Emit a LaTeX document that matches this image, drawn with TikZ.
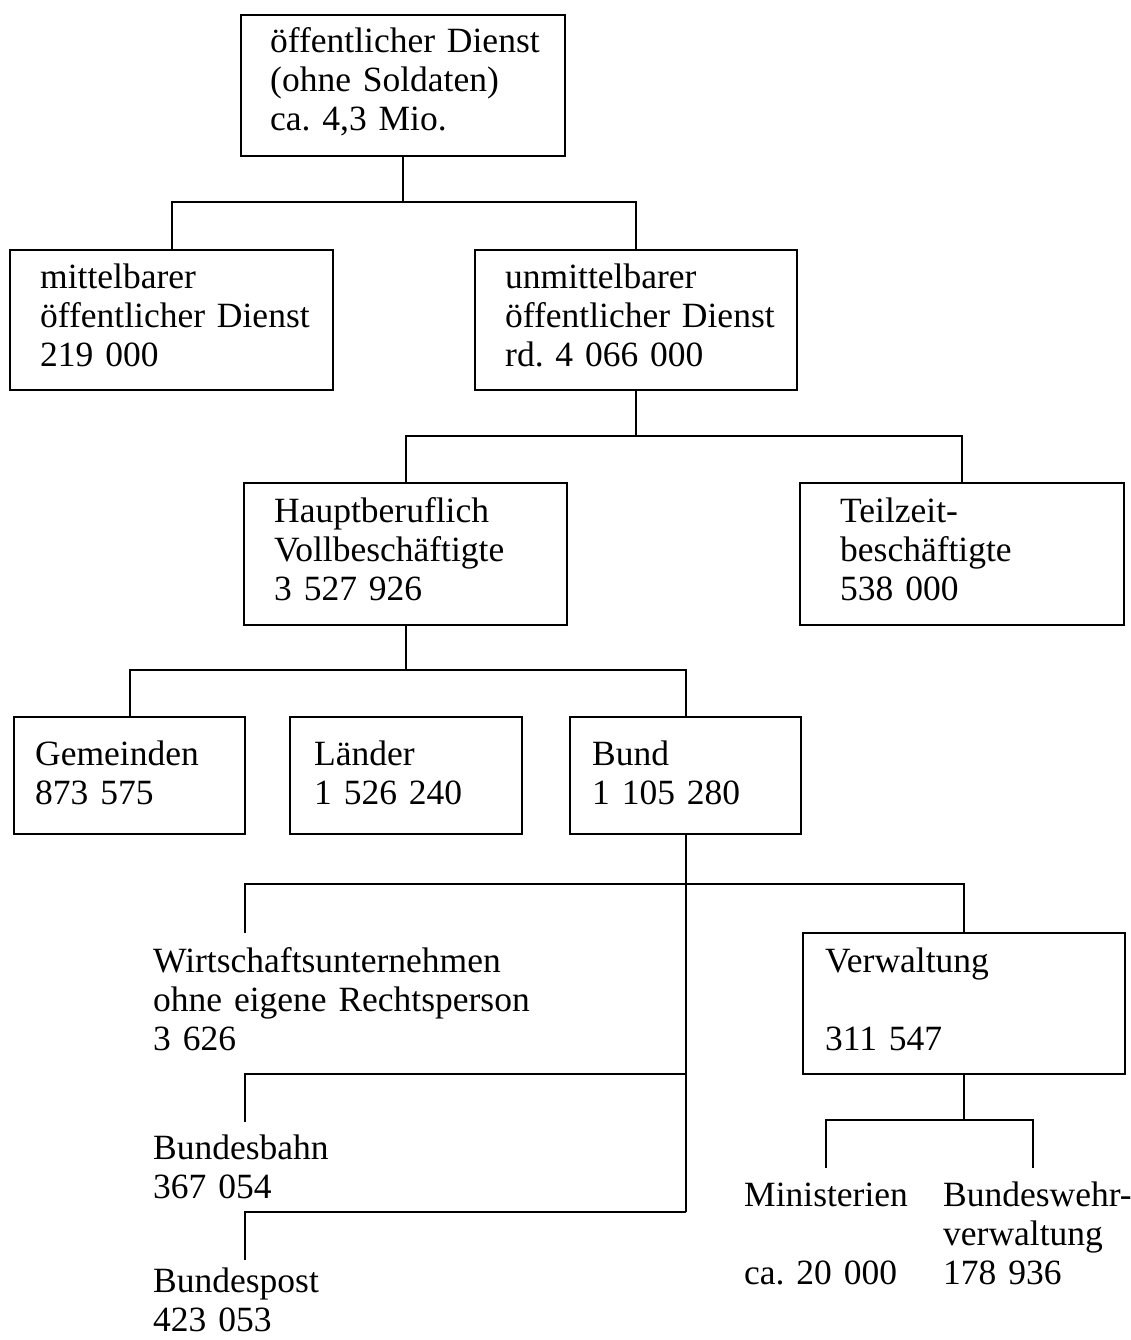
\documentclass[tikz,border=0pt]{standalone}
\usepackage{fontspec}
\setmainfont{Liberation Serif}
\frenchspacing
\begin{document}
\begin{tikzpicture}[x=1pt,y=-1pt,
  box/.style={draw, line width=2.4pt, rectangle, inner sep=0pt, anchor=north west},
  txt/.style={anchor=base west, inner sep=0pt, align=left, text width=400pt, font=\frenchspacing\fontsize{35.5}{39}\selectfont},
  conn/.style={line width=1.9pt}]
\useasboundingbox (0,0) rectangle (1131,1340);
\fill[white] (0,0) rectangle (1131,1340);
% boxes
\node[box, minimum width=324pt, minimum height=141pt] (top) at (240,14) {};
\node[box, minimum width=323pt, minimum height=140pt] (mit) at (9,249) {};
\node[box, minimum width=322pt, minimum height=140pt] (unm) at (474,249) {};
\node[box, minimum width=323pt, minimum height=142pt] (hau) at (243,482) {};
\node[box, minimum width=324pt, minimum height=142pt] (teil) at (799,482) {};
\node[box, minimum width=231pt, minimum height=117pt] (gem) at (13,716) {};
\node[box, minimum width=232pt, minimum height=117pt] (lan) at (289,716) {};
\node[box, minimum width=231pt, minimum height=117pt] (bund) at (569,716) {};
\node[box, minimum width=322pt, minimum height=141pt] (verw) at (802,932) {};
% texts
\node[txt] (topT) at (270,53) {öffentlicher Dienst\\(ohne Soldaten)\\ca. 4,3 Mio.};
\node[txt] (mitT) at (40,288) {mittelbarer\\öffentlicher Dienst\\219 000};
\node[txt] (unmT) at (505,288) {unmittelbarer\\öffentlicher Dienst\\rd. 4 066 000};
\node[txt] (hauT) at (274,522) {Hauptberuflich\\Vollbeschäftigte\\3 527 926};
\node[txt] (teilT) at (840,522) {Teilzeit-\\beschäftigte\\538 000};
\node[txt] (gemT) at (35,765) {Gemeinden\\873 575};
\node[txt] (lanT) at (314,765) {Länder\\1 526 240};
\node[txt] (bundT) at (592,765) {Bund\\1 105 280};
\node[txt] (verwT) at (825,972) {Verwaltung\\\strut\\311 547};
\node[txt] (wirtT) at (153,972) {Wirtschaftsunternehmen\\ohne eigene Rechtsperson\\3 626};
\node[txt] (bahnT) at (153,1159) {Bundesbahn\\367 054};
\node[txt] (postT) at (153,1292) {Bundespost\\423 053};
\node[txt] (minT) at (744,1206) {Ministerien\\\strut\\ca. 20 000};
\node[txt] (bwT) at (943,1206) {Bundeswehr-\\verwaltung\\178 936};
% connector levels
\coordinate (h1) at (0,202);
\coordinate (h2) at (0,436);
\coordinate (h3) at (0,670);
\coordinate (h4) at (0,884);
\coordinate (h5) at (0,1074);
\coordinate (h6) at (0,1212);
\coordinate (h7) at (0,1120);
\coordinate (wirtC) at (245,933);
\coordinate (bahnC) at (245,1122);
\coordinate (postC) at (245,1260);
\coordinate (minC) at (826,1168);
\coordinate (bwC) at (1033,1168);
% connectors
\draw[conn] (top.south) -- (top.south |- h1);
\draw[conn] (mit.north) -- (mit.north |- h1) -- (unm.north |- h1) -- (unm.north);
\draw[conn] (unm.south) -- (unm.south |- h2);
\draw[conn] (hau.north) -- (hau.north |- h2) -- (teil.north |- h2) -- (teil.north);
\draw[conn] (hau.south) -- (hau.south |- h3);
\draw[conn] (gem.north) -- (gem.north |- h3) -- (bund.north |- h3) -- (bund.north);
\draw[conn] (bund.south) -- (bund.south |- h6);
\draw[conn] (bund.south |- h4) -| (verw.north);
\draw[conn] (bund.south |- h4) -| (wirtC);
\draw[conn] (bund.south |- h5) -| (bahnC);
\draw[conn] (bund.south |- h6) -| (postC);
\draw[conn] (verw.south) -- (verw.south |- h7);
\draw[conn] (minC) |- (h7 -| bwC) -- (bwC);
\end{tikzpicture}
\end{document}
